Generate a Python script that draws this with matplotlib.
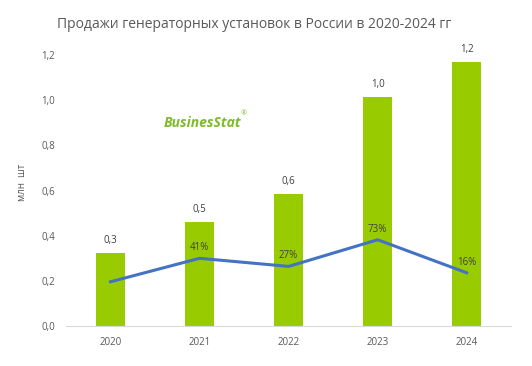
import numpy as np
import matplotlib.pyplot as plt

plt.rcParams['font.family'] = ['Open Sans', 'DejaVu Sans']

# Данные
years = ['2020', '2021', '2022', '2023', '2024']
sales = [0.323, 0.46, 0.585, 1.014, 1.169]
sales_labels = ['0,3', '0,5', '0,6', '1,0', '1,2']
growth = [0.5, 41, 27, 73, 16]
growth_labels = ['', '41%', '27%', '73%', '16%']
y_ticks = [0, 0.2, 0.4, 0.6, 0.8, 1.0, 1.2]
y_tick_labels = ['0,0', '0,2', '0,4', '0,6', '0,8', '1,0', '1,2']

fig = plt.figure(figsize=(5.32, 3.66), dpi=100)
ax = fig.add_axes([0.124, 0.109, 0.837, 0.741])

x = np.arange(len(years))
ax.bar(x, sales, width=0.32, color='#99CC00', zorder=2)
for xi, v, lab in zip(x, sales, sales_labels):
    ax.text(xi, v + 0.03, lab, ha='center', va='bottom', fontsize=7, color='#404040')

ax.set_xlim(-0.5, 4.5)
ax.set_ylim(0, 1.2)
ax.set_xticks(x)
ax.set_xticklabels(years, fontsize=7, color='#595959')
ax.set_yticks(y_ticks)
ax.set_yticklabels(y_tick_labels, fontsize=7, color='#595959')
ax.tick_params(length=0, pad=8)
for s in ['top', 'right', 'left']:
    ax.spines[s].set_visible(False)
ax.spines['bottom'].set_color('#D9D9D9')
ax.set_ylabel('млн  шт', fontsize=7, color='#595959', labelpad=6)
ax.yaxis.set_label_coords(-0.085, 0.53)

# Темп роста на вспомогательной оси
ax2 = ax.twinx()
ax2.plot(x, growth, color='#4472C4', linewidth=2.2, zorder=3)
for xi, g, lab in zip(x, growth, growth_labels):
    ax2.text(xi, g + 9, lab, ha='center', va='bottom', fontsize=7, color='#404040')
ax2.set_ylim(-76, 392)
ax2.axis('off')

fig.text(0.478, 0.932, 'Продажи генераторных установок в России в 2020-2024 гг',
         ha='center', va='center', fontsize=10, color='#595959')

# Логотип
fig.text(0.308, 0.665, 'BusinesStat', fontsize=10, fontweight='bold', style='italic',
         color='#7DBB2A', ha='left', va='center')
fig.text(0.452, 0.69, '®', fontsize=5, color='#7DBB2A', ha='left', va='center')

plt.savefig('out.png', dpi=100)
